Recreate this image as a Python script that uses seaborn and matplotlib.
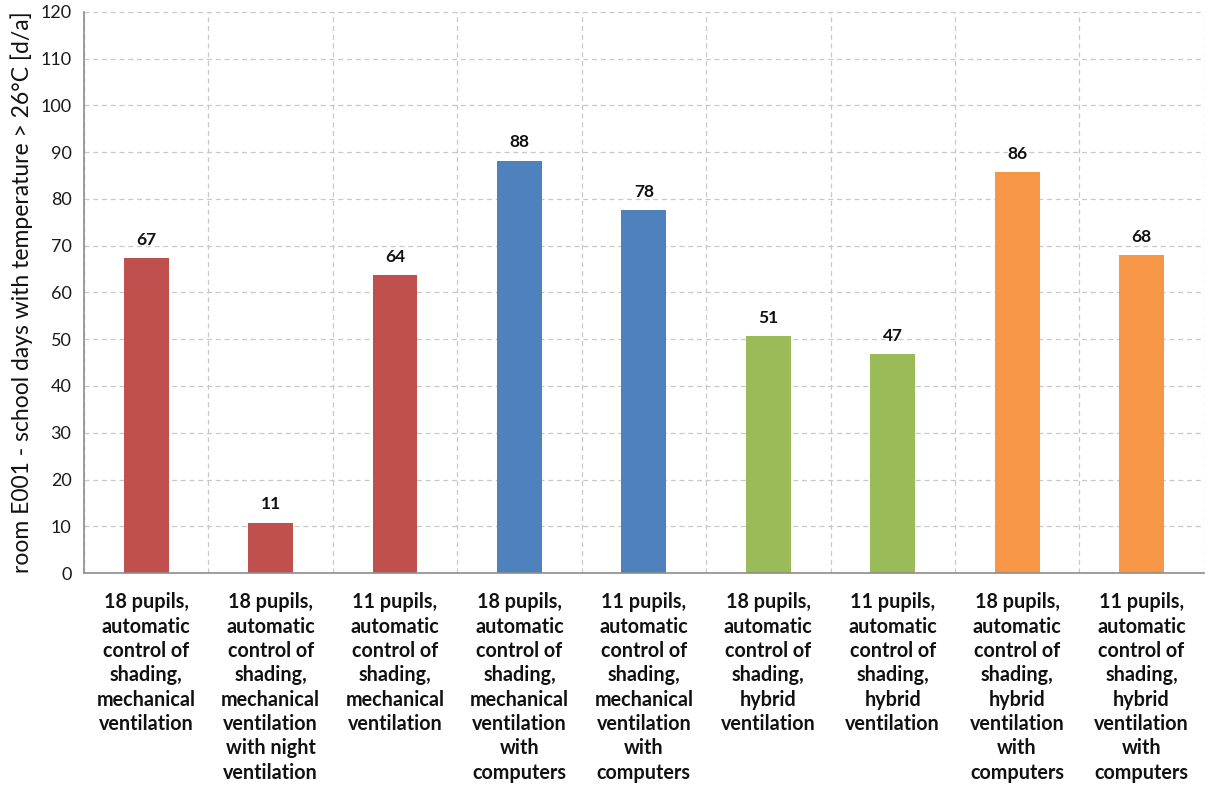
import matplotlib
matplotlib.use("Agg")
import matplotlib.pyplot as plt
import seaborn as sns
import pandas as pd
import numpy as np
from matplotlib.ticker import FixedLocator, MultipleLocator

categories = [
    "18 pupils,\nautomatic\ncontrol of\nshading,\nmechanical\nventilation",
    "18 pupils,\nautomatic\ncontrol of\nshading,\nmechanical\nventilation\nwith night\nventilation",
    "11 pupils,\nautomatic\ncontrol of\nshading,\nmechanical\nventilation",
    "18 pupils,\nautomatic\ncontrol of\nshading,\nmechanical\nventilation\nwith\ncomputers",
    "11 pupils,\nautomatic\ncontrol of\nshading,\nmechanical\nventilation\nwith\ncomputers",
    "18 pupils,\nautomatic\ncontrol of\nshading,\nhybrid\nventilation",
    "11 pupils,\nautomatic\ncontrol of\nshading,\nhybrid\nventilation",
    "18 pupils,\nautomatic\ncontrol of\nshading,\nhybrid\nventilation\nwith\ncomputers",
    "11 pupils,\nautomatic\ncontrol of\nshading,\nhybrid\nventilation\nwith\ncomputers",
]
values = [67.3, 10.8, 63.7, 88.2, 77.6, 50.6, 46.8, 85.7, 68.0]
bar_colors = ["#C0504D", "#C0504D", "#C0504D", "#4F81BD", "#4F81BD",
              "#9BBB59", "#9BBB59", "#F79646", "#F79646"]
y_label = "room E001 - school days with temperature > 26°C [d/a]"

sns.set_style("white")
plt.rcParams['font.family'] = ['Lato', 'DejaVu Sans']

df = pd.DataFrame({"cat": categories, "val": values})

fig = plt.figure(figsize=(12.08, 7.87), dpi=100)
ax = fig.add_axes([0.0695, 0.2719, 0.927, 0.7129])

sns.barplot(data=df, x="cat", y="val", hue="cat", palette=bar_colors,
            width=0.36, legend=False, ax=ax, saturation=1, edgecolor="none")

ax.set_ylim(0, 120)
ax.set_xlim(-0.5, len(categories) - 0.5)
ax.yaxis.set_major_locator(MultipleLocator(10))
ax.xaxis.set_minor_locator(FixedLocator(np.arange(-0.5, len(categories), 1.0)))

grid_c = "#C8C8C8"
ax.grid(axis="y", which="major", color=grid_c, linestyle=(0, (4, 3)), linewidth=0.9)
ax.grid(axis="x", which="minor", color=grid_c, linestyle=(0, (4, 3)), linewidth=0.9)
ax.grid(axis="x", which="major", visible=False)
ax.set_axisbelow(True)

for s in ["top", "right"]:
    ax.spines[s].set_visible(False)
for s in ["left", "bottom"]:
    ax.spines[s].set_color("#8C8C8C")
    ax.spines[s].set_linewidth(1.2)

ax.tick_params(axis="y", which="major", direction="out", length=5, color="#8C8C8C",
               labelsize=13, labelcolor="#1a1a1a", pad=4)
ax.tick_params(axis="x", which="major", length=0, pad=14)
ax.tick_params(axis="x", which="minor", direction="out", length=6, color="#8C8C8C")
ax.set_xticks(range(len(categories)))
ax.set_xticklabels(categories, fontsize=14.2, fontweight="bold", color="#111111",
                   linespacing=1.27, va="top")

ax.set_xlabel("")
ax.set_ylabel(y_label, fontsize=16.5, color="#111111", labelpad=5)

for i, v in enumerate(values):
    ax.text(i, v + 2.2, f"{v:.0f}", ha="center", va="bottom", fontsize=12.5,
            fontweight="bold", color="#111111")

fig.savefig("out.png", dpi=100)
